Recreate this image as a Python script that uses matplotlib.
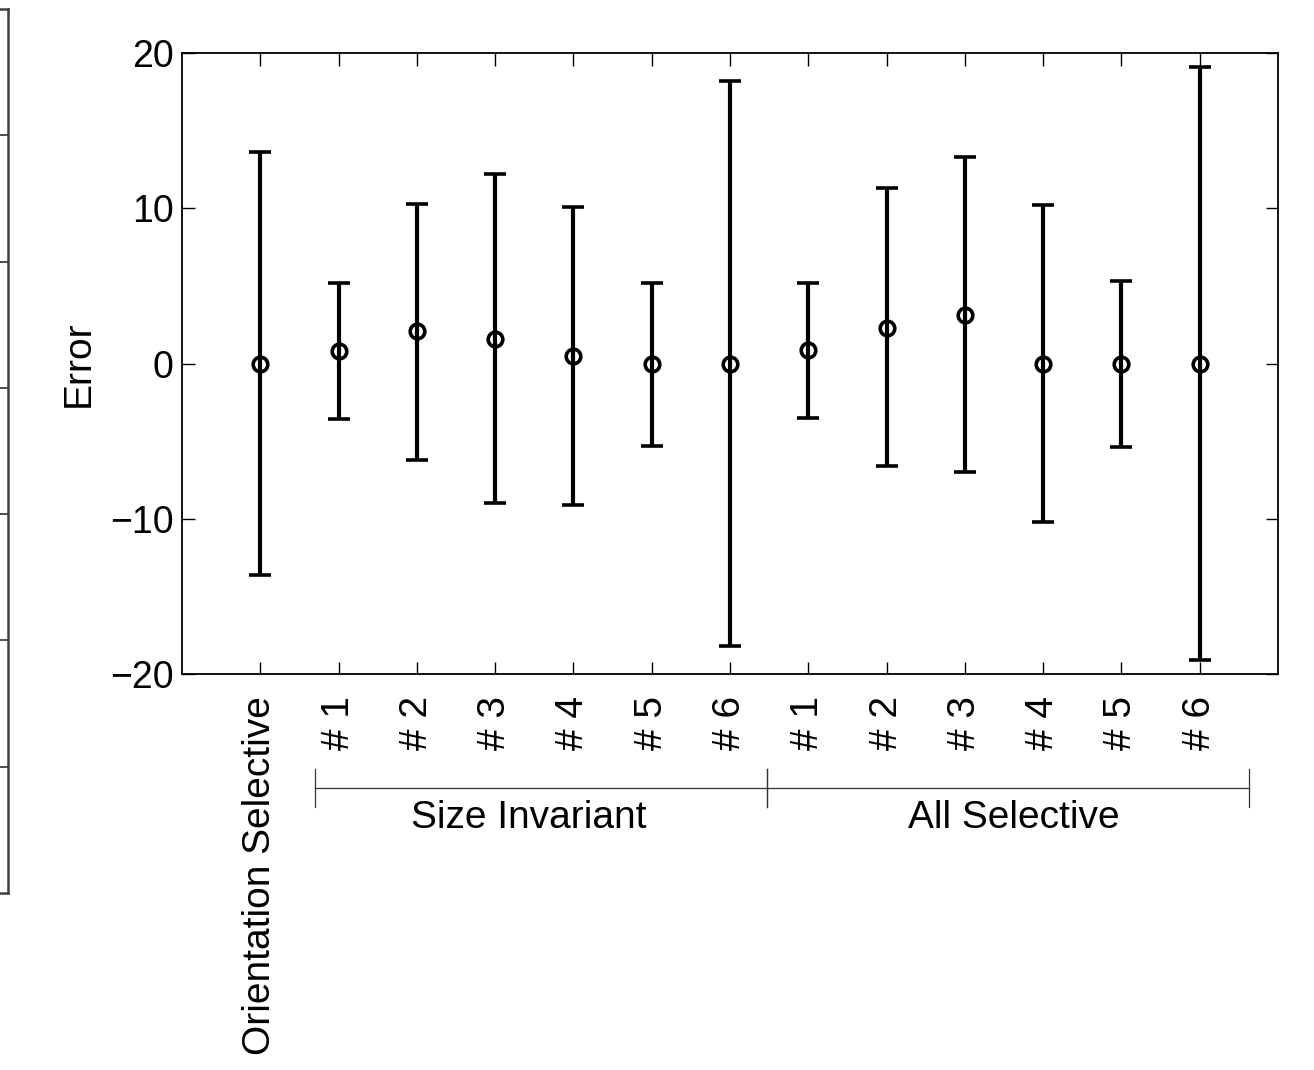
import numpy as np
import matplotlib as mpl
mpl.use('Agg')
import matplotlib.pyplot as plt

mpl.rc('font', family=['Liberation Sans', 'DejaVu Sans'], size=28)

# data
labels = ['Orientation Selective', '# 1', '# 2', '# 3', '# 4', '# 5', '# 6',
          '# 1', '# 2', '# 3', '# 4', '# 5', '# 6']
means = [0.0, 0.8, 2.1, 1.6, 0.5, 0.0, 0.0, 0.9, 2.3, 3.1, 0.0, 0.0, 0.0]
upper = [13.6, 5.2, 10.3, 12.2, 10.1, 5.2, 18.2, 5.2, 11.3, 13.3, 10.2, 5.3, 19.1]
lower = [-13.6, -3.6, -6.2, -9.0, -9.1, -5.3, -18.2, -3.5, -6.6, -7.0, -10.2, -5.4, -19.1]
groups = ['Size Invariant', 'All Selective']
group_span = [(1.70, 7.47), (7.47, 13.63)]
group_text_x = [4.43, 10.63]

x = np.arange(1, len(labels)+1)
m = np.array(means)
yerr = np.vstack([m-np.array(lower), np.array(upper)-m])

fig = plt.figure(figsize=(13.14, 10.70), dpi=100)

# neighbouring panel, mostly cut off at the left edge
axl = fig.add_axes([-0.3, 1-893/1070, 0.3+8/1314, (893-9)/1070])
axl.set_xlim(0, 1); axl.set_ylim(0, 7)
axl.set_yticks(np.arange(1, 7))
axl.set_xticks([])
axl.yaxis.tick_right()
axl.tick_params(axis='y', direction='in', length=12, width=1.3, labelright=False, colors='#404040')
for s in axl.spines.values():
    s.set_linewidth(1.8); s.set_color('#404040')

ax = fig.add_axes([182/1314, 1-674/1070, (1278-182)/1314, (674-53)/1070])
ax.errorbar(x, m, yerr=yerr, fmt='o', color='k', ecolor='k', elinewidth=3.0,
            capsize=8, capthick=3.0, markersize=10.5, markeredgewidth=2.6,
            markerfacecolor='none')
ax.set_xlim(0, 14)
ax.set_ylim(-20, 20)
ax.set_yticks([-20, -10, 0, 10, 20])
ax.set_yticklabels(['\u221220', '\u221210', '0', '10', '20'])
ax.set_xticks(x)
ax.set_xticklabels(labels, rotation=90, va='top', ha='center')
ax.set_ylabel('Error', fontsize=28)
ax.yaxis.set_label_coords(-0.0776, 0.5)
ax.tick_params(direction='in', length=9, width=1.0, top=True, right=True, labelsize=27)
ax.tick_params(axis='y', pad=6)
ax.tick_params(axis='x', pad=16, labelsize=28)
for s in ax.spines.values():
    s.set_linewidth(1.3)

# group brackets below the tick labels
trans = ax.get_xaxis_transform()
yb = -(788-674)/(674-53)
dy = 19/(674-53)
yt = -(818-674)/(674-53)
for (a, b), name, tx in zip(group_span, groups, group_text_x):
    ax.plot([a, b], [yb, yb], color='#333333', lw=0.9, transform=trans, clip_on=False)
    for e in (a, b):
        ax.plot([e, e], [yb-dy, yb+dy], color='#333333', lw=0.9, transform=trans, clip_on=False)
    ax.text(tx, yt, name, transform=trans, ha='center', va='center', fontsize=28)

fig.savefig('out.png', dpi=100)
